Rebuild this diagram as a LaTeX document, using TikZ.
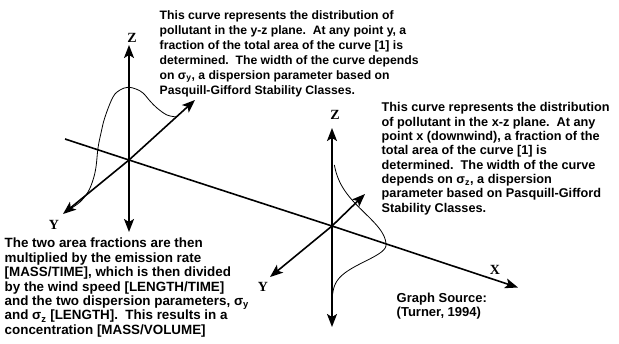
\documentclass[tikz,border=0pt]{standalone}
\usepackage{fontspec}
\setmainfont{Liberation Sans}
\newfontfamily\labelfont{Liberation Serif}
\usetikzlibrary{arrows.meta}
\begin{document}
\begin{tikzpicture}[x=1pt,y=-1pt,
  tip/.style={-{Stealth[length=13pt,width=10pt,inset=3pt]}},
  axisline/.style={line width=1.6pt},
  gcurve/.style={line width=0.8pt},
  txt/.style={inner sep=0pt, anchor=north west, align=left},
  axlabel/.style={inner sep=0pt, font=\labelfont\bfseries\fontsize{14}{14}\selectfont}]
\useasboundingbox[fill=white] (0,0) rectangle (619,343);

% origins and axis ends
\coordinate (O1) at (129,160);
\coordinate (O2) at (332,226);
\coordinate (Xs) at (65,139);
\coordinate (Xe) at (518,287.5);
\coordinate (Z1t) at (129,45);
\coordinate (Z1b) at (129,232);
\coordinate (Y1a) at (195,100);
\coordinate (Y1b) at (63,214);
\coordinate (Z2t) at (332,128);
\coordinate (Z2b) at (332,327);
\coordinate (Y2a) at (365,194);
\coordinate (Y2b) at (270,277);

% X axis through both origins
\draw[axisline,tip] (Xs) -- (O1) -- (O2) -- (Xe);
% left system
\draw[axisline,tip] (O1) -- (Z1t);
\draw[axisline,tip] (O1) -- (Z1b);
\draw[axisline,tip] (O1) -- (Y1a);
\draw[axisline,tip] (O1) -- (Y1b);
% right system
\draw[axisline,tip] (O2) -- (Z2t);
\draw[axisline,tip] (O2) -- (Z2b);
\draw[axisline,tip] (O2) -- (Y2a);
\draw[axisline,tip] (O2) -- (Y2b);

% y-z plane curve
\draw[gcurve] plot[smooth, tension=0.6] coordinates {
 (70,209) (80,202) (88,192) (93,180) (96,167) (98,148) (101,133) (105,117)
 (113,97) (120,90) (128,87.3) (136,89) (143,93) (150,101) (157,108) (167,115) (177,117)};

% x-z plane curve
\draw[gcurve] plot[domain=165:245, samples=50, variable=\t] ({332+54*exp(-0.5*((\t-245)/32)^2)},\t)
  -- plot[domain=245:294, samples=40, variable=\t] ({332+54*exp(-0.5*((\t-245)/16.5)^2)},\t);

% axis labels
\node[axlabel] (lz1) at (132,38) {Z};
\node[axlabel] (ly1) at (54,225) {Y};
\node[axlabel] (lz2) at (335,115) {Z};
\node[axlabel] (ly2) at (263,287) {Y};
\node[axlabel] (lx) at (495,270) {X};

% texts
\node[txt, font=\bfseries\fontsize{12.2}{14.9}\selectfont] (t1) at (159.5,10.5) {This curve represents the distribution of\\
pollutant in the y-z plane.\ \ At any point y, a\\
fraction of the total area of the curve {[}1{]} is\\
determined.\ \ The width of the curve depends\\
on σ\textsubscript{y}, a dispersion parameter based on\\
Pasquill-Gifford Stability Classes.};

\node[txt, font=\bfseries\fontsize{12.7}{14.3}\selectfont] (t2) at (381.5,102.5) {This curve represents the distribution\\
of pollutant in the x-z plane.\ \ At any\\
point x (downwind), a fraction of the\\
total area of the curve {[}1{]} is\\
determined.\ \ The width of the curve\\
depends on σ\textsubscript{z}, a dispersion\\
parameter based on Pasquill-Gifford\\
Stability Classes.};

\node[txt, font=\bfseries\fontsize{13.4}{14.4}\selectfont] (t3) at (4.5,238) {The two area fractions are then\\
multiplied by the emission rate\\
{[}MASS/TIME{]}, which is then divided\\
by the wind speed {[}LENGTH/TIME{]}\\
and the two dispersion parameters, σ\textsubscript{y}\\
and σ\textsubscript{z} {[}LENGTH{]}.\ \ This results in a\\
concentration {[}MASS/VOLUME{]}};

\node[txt, font=\bfseries\fontsize{13}{14}\selectfont] (t4) at (396.5,293.3) {Graph Source:\\
(Turner, 1994)};
\end{tikzpicture}
\end{document}
